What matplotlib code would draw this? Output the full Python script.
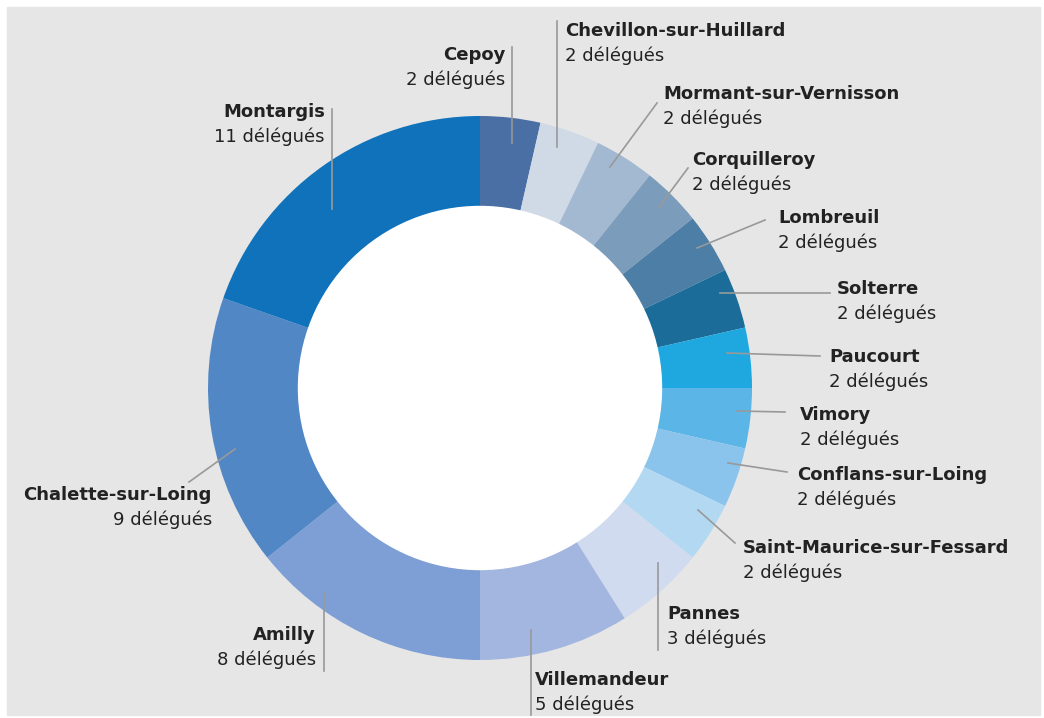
import matplotlib
matplotlib.use("Agg")
import matplotlib.pyplot as plt
from matplotlib.patches import Rectangle, Circle

# data, clockwise from 12 o'clock
communes = ["Cepoy", "Chevillon-sur-Huillard", "Mormant-sur-Vernisson", "Corquilleroy",
            "Lombreuil", "Solterre", "Paucourt", "Vimory", "Conflans-sur-Loing",
            "Saint-Maurice-sur-Fessard", "Pannes", "Villemandeur", "Amilly",
            "Chalette-sur-Loing", "Montargis"]
delegues = [2, 2, 2, 2, 2, 2, 2, 2, 2, 2, 3, 5, 8, 9, 11]
couleurs = ["#4a6fa5", "#d0dae6", "#a3b9d1", "#7b9dbb", "#4c7ea6", "#1b6c99",
            "#1fa8e0", "#5bb5e6", "#8ac4ec", "#b3d9f2", "#d0dbef", "#a3b6e0",
            "#7d9fd5", "#5287c5", "#1072ba"]

W, H = 1044, 718
def Y(py):
    return H - py

# label layout (pixels): text x, name y, alignment, leader line (x0,y0,x1,y1)
layout = [
    (505, 55, "right", (512, 143, 512, 47)),
    (565, 31, "left", (557, 147, 557, 21)),
    (663, 94, "left", (610, 167, 657, 103)),
    (692, 160, "left", (659, 207, 688, 168)),
    (778, 218, "left", (697, 248, 765, 220)),
    (837, 289, "left", (720, 293, 830, 293)),
    (829, 357, "left", (727, 353, 820, 356)),
    (800, 415, "left", (737, 411, 785, 412)),
    (797, 475, "left", (728, 463, 787, 472)),
    (743, 548, "left", (698, 510, 735, 543)),
    (667, 614, "left", (658, 563, 658, 650)),
    (535, 680, "left", (531, 630, 531, 715)),
    (316, 635, "right", (324, 593, 324, 671)),
    (212, 495, "right", (235, 449, 189, 482)),
    (325, 112, "right", (332, 209, 332, 109)),
]

fig = plt.figure(figsize=(W / 100, H / 100), dpi=100)
ax = fig.add_axes([0, 0, 1, 1])
ax.add_patch(Rectangle((7, Y(715)), 1033, 708, color="#e6e6e6", zorder=0))

ax.pie(delegues, colors=couleurs, startangle=90, counterclock=False,
       center=(480, Y(388)), radius=272,
       wedgeprops=dict(width=91, linewidth=0), frame=True)
ax.add_patch(Circle((480, Y(388)), 181.5, color="white", zorder=3))

for nom, n, (tx, ty, ha, (x0, y0, x1, y1)) in zip(communes, delegues, layout):
    ax.plot([x0, x1], [Y(y0), Y(y1)], color="#999999", lw=1.2, zorder=5)
    ax.text(tx, Y(ty), nom, ha=ha, va="center", fontsize=13,
            fontweight="bold", color="#222222", family="DejaVu Sans")
    ax.text(tx, Y(ty + 25), f"{n} délégués", ha=ha, va="center",
            fontsize=13, color="#222222", family="DejaVu Sans")

ax.set_xlim(0, W)
ax.set_ylim(0, H)
ax.set_aspect("equal")
ax.axis("off")
fig.savefig("out.png", dpi=100, facecolor="white")
